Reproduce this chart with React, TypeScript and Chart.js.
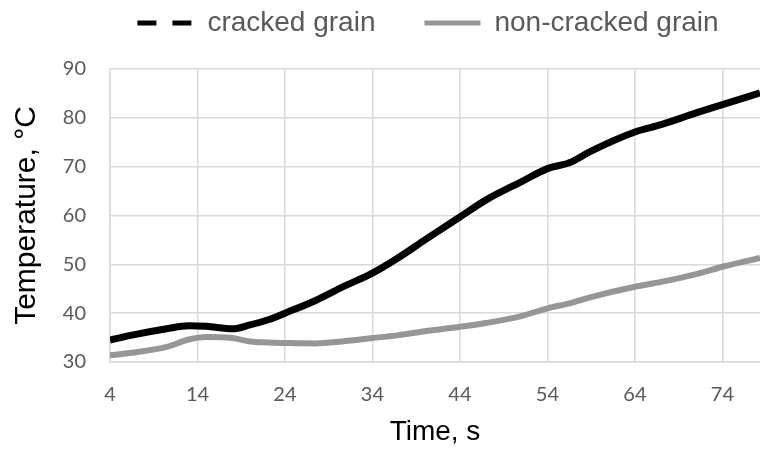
import React, { useEffect, useRef } from "react";
import { Chart, registerables } from "chart.js";

Chart.register(...registerables);

const timeS = [4, 6.5, 10.5, 13, 15, 18, 20, 22, 24, 27.5, 30.5, 34, 37, 40, 44, 47, 51, 54, 56.5, 59, 64, 67, 71, 74, 78.3];
const crackedGrain = [34.5, 35.5, 36.8, 37.4, 37.3, 36.8, 37.6, 38.6, 40.0, 42.6, 45.3, 48.2, 51.4, 55.0, 59.7, 63.2, 66.9, 69.6, 70.8, 73.2, 77.1, 78.6, 81.0, 82.7, 85.1];
const nonCrackedGrain = [31.4, 31.9, 33.1, 34.6, 35.1, 34.9, 34.2, 34.0, 33.9, 33.8, 34.2, 34.9, 35.5, 36.3, 37.2, 38.0, 39.4, 41.0, 42.0, 43.3, 45.4, 46.4, 48.0, 49.5, 51.3];
const xTickValues = [4, 14, 24, 34, 44, 54, 64, 74];
const seriesLabels = ["cracked grain", "non-cracked grain"];

const ARIAL = "'Liberation Sans', Arial, sans-serif";
const TICKFONT = "Lato, 'Open Sans', sans-serif";
const GRID = "#d9d9d9";

const legendShift = {
  id: "legendShift",
  afterLayout(chart: any) {
    const l = chart.legend;
    if (!l) return;
    l.left += 48;
    l.right += 48;
    l.top -= 40;
  },
};

export default function App() {
  const ref = useRef<HTMLCanvasElement | null>(null);
  useEffect(() => {
    if (!ref.current) return;
    const chart = new Chart(ref.current, {
      type: "line",
      data: {
        datasets: [
          {
            label: seriesLabels[0],
            data: timeS.map((t, i) => ({ x: t, y: crackedGrain[i] })),
            borderColor: "#000000",
            backgroundColor: "#000000",
            borderWidth: 7,
            pointRadius: 0,
            cubicInterpolationMode: "monotone",
          },
          {
            label: seriesLabels[1],
            data: timeS.map((t, i) => ({ x: t, y: nonCrackedGrain[i] })),
            borderColor: "#969696",
            backgroundColor: "#969696",
            borderWidth: 6,
            pointRadius: 0,
            cubicInterpolationMode: "monotone",
          },
        ],
      },
      options: {
        responsive: false,
        animation: false,
        layout: { padding: 0 },
        plugins: {
          tooltip: { enabled: false },
          legend: {
            position: "top",
            maxHeight: 69,
            labels: {
              usePointStyle: true,
              pointStyleWidth: 56,
              padding: 49,
              color: "#595959",
              font: { family: ARIAL, size: 28 },
              generateLabels: (c: any) =>
                c.data.datasets.map((ds: any, i: number) => ({
                  text: ds.label,
                  strokeStyle: ds.borderColor,
                  fillStyle: ds.borderColor,
                  lineWidth: 5,
                  lineDash: i === 0 ? [19, 16] : [],
                  lineCap: "butt",
                  pointStyle: "line",
                  hidden: false,
                  datasetIndex: i,
                  fontColor: "#595959",
                })),
            },
          },
        },
        scales: {
          x: {
            type: "linear",
            min: 4,
            max: 78.3,
            afterBuildTicks: (scale: any) => {
              scale.ticks = xTickValues.map((v) => ({ value: v }));
            },
            afterFit: (scale: any) => {
              scale.height = 88;
            },
            grid: { color: GRID, lineWidth: 1.5, drawTicks: false },
            border: { color: GRID, width: 1.5 },
            ticks: {
              padding: 21,
              color: "#595959",
              font: { family: TICKFONT, size: 20 },
              maxRotation: 0,
              autoSkip: false,
            },
            title: {
              display: true,
              text: "Time, s",
              color: "#000000",
              font: { family: ARIAL, size: 28 },
              padding: { top: 0, bottom: 1 },
            },
          },
          y: {
            min: 30,
            max: 90,
            afterFit: (scale: any) => {
              scale.width = 110;
            },
            grid: { color: GRID, lineWidth: 1.5, drawTicks: false },
            border: { color: GRID, width: 1.5 },
            ticks: {
              stepSize: 10,
              padding: 24,
              color: "#595959",
              font: { family: TICKFONT, size: 20 },
            },
            title: {
              display: true,
              text: "Temperature, °C",
              color: "#000000",
              font: { family: ARIAL, size: 30 },
              padding: { top: 9, bottom: 0 },
            },
          },
        },
      },
      plugins: [legendShift],
    } as any);
    return () => chart.destroy();
  }, []);
  return (
    <div style={{ position: "absolute", left: 0, top: 0, width: 760, height: 450, background: "#ffffff" }}>
      <canvas ref={ref} width={760} height={450} />
    </div>
  );
}
